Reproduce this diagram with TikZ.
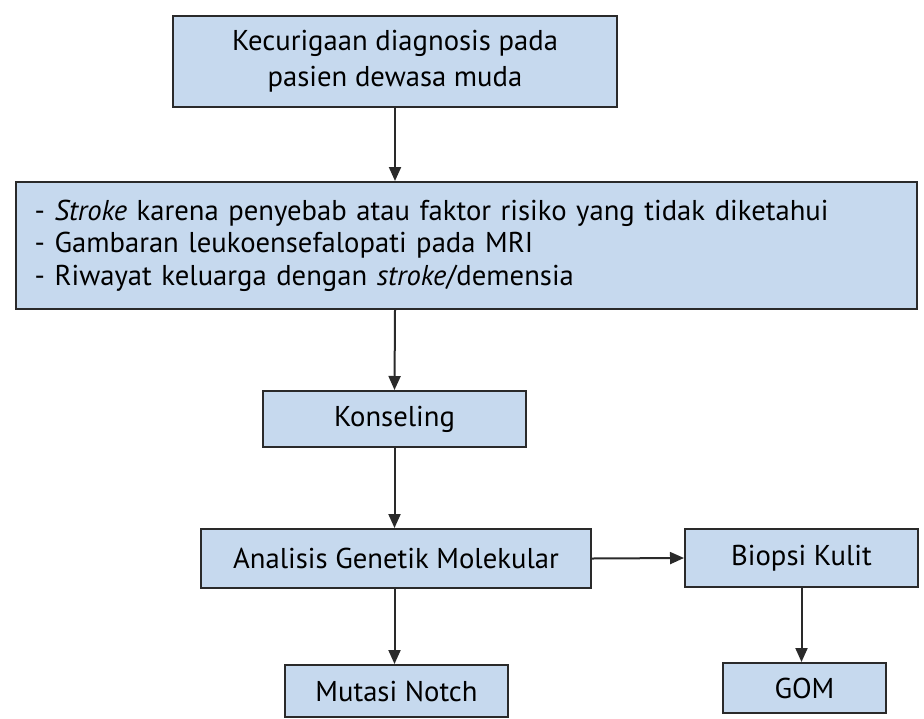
\documentclass[tikz,border=0pt]{standalone}
\usepackage{fontspec}
\setmainfont{PT Sans}
\usepackage{tikz}
\usetikzlibrary{arrows.meta}
\definecolor{birumuda}{HTML}{C6D9EE}
\definecolor{garis}{HTML}{2A2A2A}

\begin{document}
\begin{tikzpicture}[x=0.75pt,y=-0.75pt,
    kotak/.style={draw=garis, fill=birumuda, line width=1.5pt, inner sep=0pt, align=center,
                  font=\fontsize{21.5}{27}\selectfont, text=black},
    panah/.style={draw=garis, line width=1.5pt, -{Triangle[length=10.5pt,width=9pt]}}]
               \useasboundingbox (0,0) rectangle (924,718);
               \node[kotak, minimum width=333pt, minimum height=68.25pt] (curiga) at (395,61.5) {Kecurigaan diagnosis pada\\pasien dewasa muda};
               \node[kotak, minimum height=95.25pt, text width=647.75pt, align=left, inner xsep=14pt,
                     font=\fontsize{21.5}{24.5}\selectfont] (gejala) at (466.5,245.5)
                    {- \textit{Stroke} karena penyebab atau faktor risiko yang tidak diketahui\\
                     - Gambaran leukoensefalopati pada MRI\\
                     - Riwayat keluarga dengan \textit{stroke}/demensia};
               \node[kotak, minimum width=197.25pt, minimum height=42pt] (konsel) at (394.5,419) {Konseling};
               \node[kotak, minimum width=292.5pt, minimum height=44.25pt] (genetik) at (396,558.5) {Analisis Genetik Molekular};
               \node[kotak, minimum width=174.75pt, minimum height=43.5pt] (biopsi) at (801.5,558) {Biopsi Kulit};
               \node[kotak, minimum width=167.25pt, minimum height=39pt] (notch) at (396.5,691) {Mutasi Notch};
               \node[kotak, minimum width=122.25pt, minimum height=37.5pt] (gom) at (804.5,688) {GOM};
               \draw[panah] (curiga.south) -- (curiga.south |- gejala.north);
               \draw[panah] (curiga.south |- gejala.south) -- (konsel.north);
               \draw[panah] (konsel.south) -- (konsel.south |- genetik.north);
               \draw[panah] (genetik.east) -- (biopsi.west);
               \draw[panah] (konsel.south |- genetik.south) -- (konsel.south |- notch.north);
               \draw[panah] (biopsi.south) -- (biopsi.south |- gom.north);
\end{tikzpicture}
\end{document}
